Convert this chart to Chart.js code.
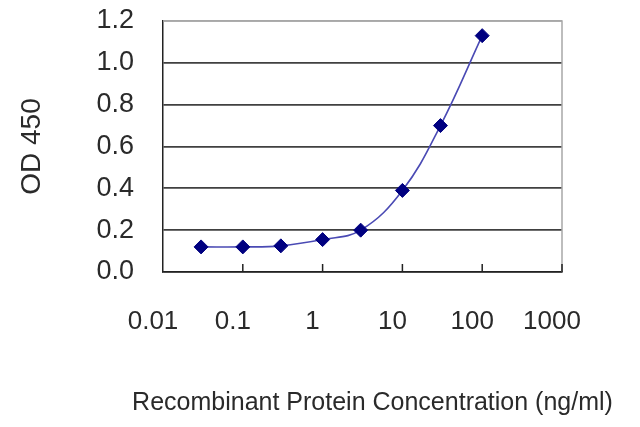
<!DOCTYPE html>
<html>
<head>
<meta charset="utf-8">
<script src="https://cdn.jsdelivr.net/npm/chart.js@4.4.0/dist/chart.umd.min.js"></script>
<style>
  html, body { margin: 0; padding: 0; background: #fff; }
</style>
</head>
<body>
<canvas id="odChart" width="640" height="427"></canvas>
<script>
// concentration (ng/ml) vs OD 450 readings
const concentrations = [0.03, 0.1, 0.3, 1, 3, 10, 30, 100];
const odValues = [0.12, 0.12, 0.125, 0.155, 0.20, 0.39, 0.70, 1.13];
const xTicks = [0.01, 0.1, 1, 10, 100, 1000];
const xTickLabels = ['0.01', '0.1', '1', '10', '100', '1000'];
const yTicks = [0, 0.2, 0.4, 0.6, 0.8, 1.0, 1.2];
const xTitle = 'Recombinant Protein Concentration (ng/ml)';

document.addEventListener("DOMContentLoaded", function () {
  var ctx = document.getElementById("odChart").getContext("2d");
  var textFont = 'Liberation Sans, Arial, sans-serif';

  // gray frame on top/right, small inner tick marks on the x axis,
  // and the x title (scale titles get squeezed to the plot width)
  const frame = {
    id: 'frame',
    beforeDatasetsDraw(chart) {
      const a = chart.chartArea;
      const c = chart.ctx;
      const xs = chart.scales.x;
      c.save();
      c.strokeStyle = '#a8a8a8';
      c.lineWidth = 1.5;
      c.beginPath();
      c.moveTo(a.left, a.top);
      c.lineTo(a.right, a.top);
      c.lineTo(a.right, a.bottom);
      c.stroke();
      c.strokeStyle = '#222';
      c.lineWidth = 1.5;
      xTicks.slice(1).forEach(function (v) {
        const px = xs.getPixelForValue(v);
        c.beginPath();
        c.moveTo(px, a.bottom);
        c.lineTo(px, a.bottom - 8);
        c.stroke();
      });
      c.restore();
    },
    afterDraw(chart) {
      const c = chart.ctx;
      const a = chart.chartArea;
      c.save();
      c.fillStyle = '#2a2a2a';
      c.font = '25px ' + textFont;
      c.textAlign = 'center';
      c.textBaseline = 'middle';
      c.fillText(xTitle, a.left + (a.right - a.left) / 2 + 10, a.bottom + 131);
      c.restore();
    }
  };

  const data = {
    datasets: [{
      label: 'OD 450',
      data: concentrations.map(function (x, i) { return { x: x, y: odValues[i] }; }),
      borderColor: '#4a4ab4',
      borderWidth: 1.6,
      tension: 0.4,
      pointStyle: 'rectRot',
      pointRadius: 7,
      pointBackgroundColor: '#000080',
      pointBorderColor: '#000080',
      pointBorderWidth: 1,
      clip: false
    }]
  };

  const config = {
    type: 'line',
    data: data,
    plugins: [frame],
    options: {
      responsive: false,
      animation: false,
      layout: { padding: { left: 0, right: 78, top: 21, bottom: 0 } },
      plugins: { legend: { display: false }, tooltip: { enabled: false } },
      scales: {
        x: {
          type: 'logarithmic',
          min: 0.01,
          max: 1000,
          afterBuildTicks: function (scale) {
            scale.ticks = xTicks.map(function (v) { return { value: v }; });
          },
          afterFit: function (scale) { scale.height = 155; },
          grid: { display: false, drawTicks: false },
          border: { display: true, color: '#222', width: 1.5 },
          ticks: {
            autoSkip: false,
            maxRotation: 0,
            padding: 34,
            labelOffset: -10,
            color: '#2a2a2a',
            font: { family: textFont, size: 26 },
            callback: function (v) {
              const i = xTicks.indexOf(v);
              return i >= 0 ? xTickLabels[i] : '';
            }
          }
        },
        y: {
          min: 0,
          max: 1.2,
          afterBuildTicks: function (scale) {
            scale.ticks = yTicks.map(function (v) { return { value: v }; });
          },
          afterFit: function (scale) {
            scale.width = 163;
            scale.paddingTop = 0;
            scale.paddingBottom = 0;
          },
          grid: {
            drawTicks: false,
            lineWidth: 1.8,
            color: function (c) {
              return Math.abs(c.tick.value - 1.2) < 1e-6 ? '#a8a8a8' : '#404040';
            }
          },
          border: { display: true, color: '#222', width: 1.5 },
          ticks: {
            padding: 29,
            color: '#2a2a2a',
            font: { family: textFont, size: 27 },
            callback: function (v) { return Number(v).toFixed(1); }
          },
          title: {
            display: true,
            text: 'OD 450',
            color: '#2a2a2a',
            font: { family: textFont, size: 28 },
            padding: { top: 15, bottom: 0 }
          }
        }
      }
    }
  };

  new Chart(ctx, config);
});
</script>
</body>
</html>
